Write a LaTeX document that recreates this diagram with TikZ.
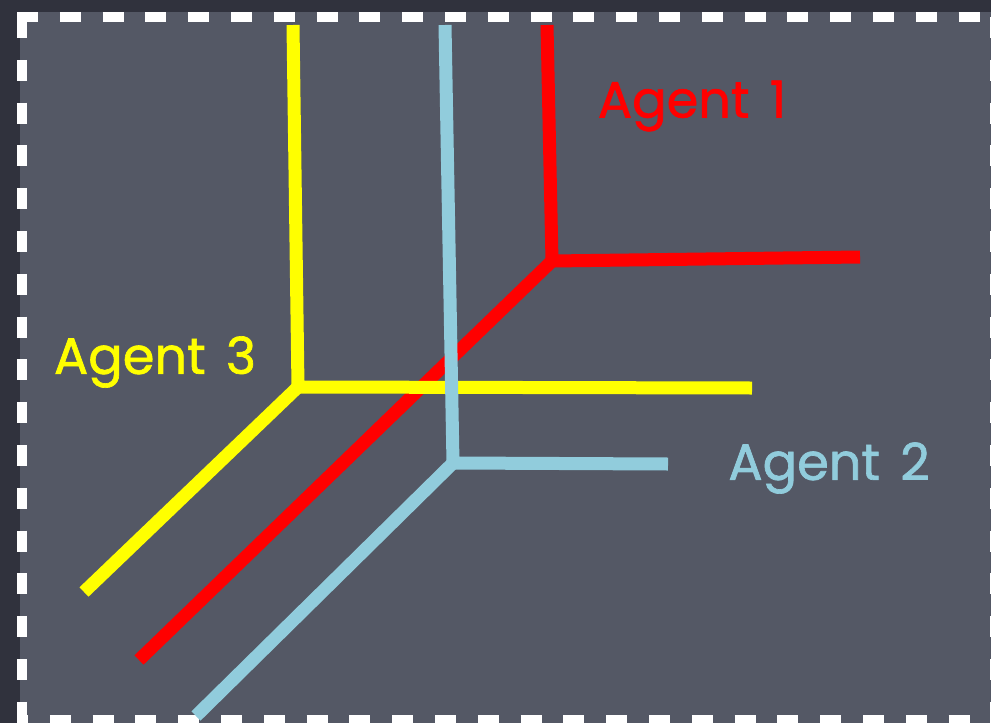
\documentclass[tikz,border=0pt]{standalone}
\usepackage{fontspec}
\setmainfont{Poppins}
\newfontfamily\lblfont{Poppins}[FakeBold=1.3]
\definecolor{bgouter}{RGB}{48,50,61}
\definecolor{bginner}{RGB}{84,88,101}
\definecolor{agred}{RGB}{255,0,0}
\definecolor{agyellow}{RGB}{255,255,0}
\definecolor{agblue}{RGB}{145,204,220}
\tikzset{
  agline/.style={line width=13pt, line cap=butt, line join=miter},
  border/.style={white, line width=10pt, dash pattern=on 21pt off 21.8pt},
  lbl/.style={font=\lblfont\fontsize{51}{51}\selectfont, inner sep=0pt, anchor=center}
}
\begin{document}
\begin{tikzpicture}[x=1pt,y=-1pt]
\useasboundingbox (0,0) rectangle (991,723);
\fill[bgouter] (0,0) rectangle (991,723);
\fill[bginner] (20,12) rectangle (991,723);
% border
\draw[border] (17,17) -- (1000,17);
\draw[border] (22,17) -- (22,730);
\draw[border, dash phase=15pt] (22,720) -- (1000,720);
\draw[border] (995,17) -- (995,730);
% junction points
\coordinate (rc) at (552,261);
\coordinate (rt) at (547,25);
\coordinate (rr) at (860,257);
\coordinate (rd) at (139,660);
\coordinate (yc) at (298,387);
\coordinate (yt) at (293,25);
\coordinate (yr) at (752,388);
\coordinate (yd) at (84,592);
\coordinate (bc) at (453,463);
\coordinate (bt) at (445,25);
\coordinate (br) at (668,464);
\coordinate (bd) at (196,716);
% red (bottom layer)
\draw[agline, agred] (rt) -- (rc) -- (rr);
\draw[agline, agred] (rc) -- (rd);
% yellow
\draw[agline, agyellow] (yt) -- (yc) -- (yr);
\draw[agline, agyellow] (yc) -- (yd);
% blue (top)
\draw[agline, agblue] (bt) -- (bc) -- (br);
\draw[agline, agblue] (bc) -- (bd);
% labels
\node[lbl, text=agred] (l1) at (692,106) {Agent\hspace{0.4em}1};
\node[lbl, text=agyellow] (l3) at (155,362) {Agent\hspace{0.4em}3};
\node[lbl, text=agblue] (l2) at (829,468) {Agent\hspace{0.4em}2};
\end{tikzpicture}
\end{document}
